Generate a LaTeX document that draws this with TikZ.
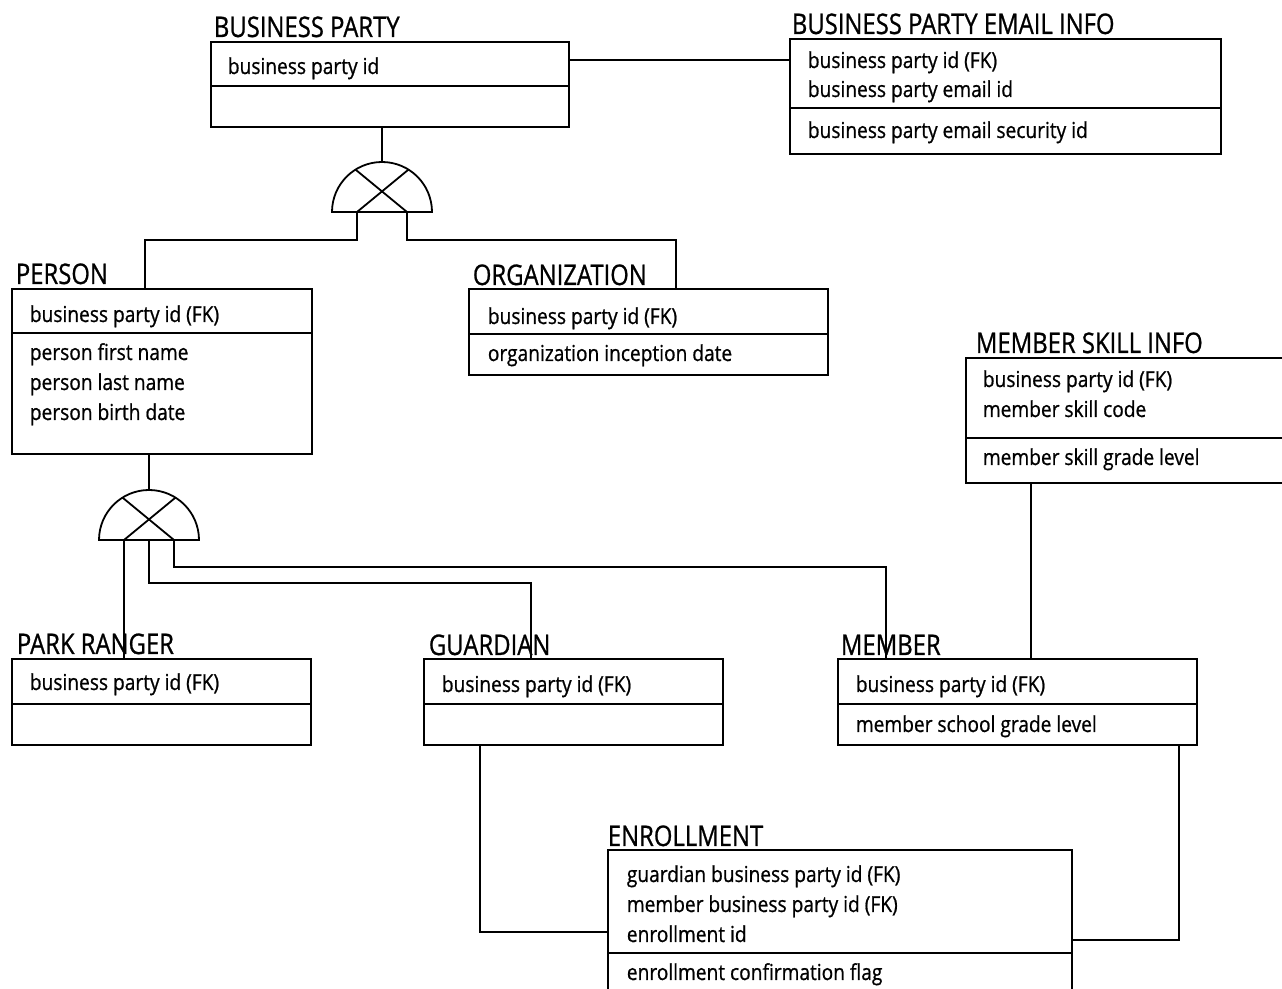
\documentclass[tikz,border=0pt]{standalone}
\usepackage{fontspec}
\setmainfont{Open Sans}[FakeStretch=0.87, FakeBold=0.8]
\newfontfamily\titlefont{Open Sans}[FakeStretch=0.84, FakeBold=0.8]
\begin{document}
\begin{tikzpicture}[x=0.5pt,y=-0.5pt,
  line width=0.9pt,
  ent/.style={draw, rectangle, anchor=north west, inner sep=0pt, outer sep=0pt},
  etitle/.style={anchor=base west, inner sep=0pt, font=\titlefont\fontsize{14.2}{16}\selectfont},
  attr/.style={anchor=base west, inner sep=0pt, font=\fontsize{11}{13}\selectfont},
]
\useasboundingbox (0,0) rectangle (1282,989);
\clip (0,0) rectangle (1282,989);

% ---------- entity boxes ----------
\node[ent, minimum width=179pt,   minimum height=42.5pt] (bp)     at (211,42)  {};
\node[ent, minimum width=215.5pt, minimum height=57.5pt] (em)     at (790,39)  {};
\node[ent, minimum width=150pt,   minimum height=82.5pt] (person) at (12,289)  {};
\node[ent, minimum width=179.5pt, minimum height=43pt]   (org)    at (469,289) {};
\node[ent, minimum width=170pt,   minimum height=62.5pt] (skill)  at (966,358) {};
\node[ent, minimum width=149.5pt, minimum height=43pt]   (park)   at (12,659)  {};
\node[ent, minimum width=149.5pt, minimum height=43pt]   (guard)  at (424,659) {};
\node[ent, minimum width=179.5pt, minimum height=43pt]   (member) at (838,659) {};
\node[ent, minimum width=232pt,   minimum height=80pt]   (enroll) at (608,850) {};

% key / non-key dividers
\draw (bp.west |- 0,86)      -- (bp.east |- 0,86);
\draw (em.west |- 0,108)     -- (em.east |- 0,108);
\draw (person.west |- 0,333) -- (person.east |- 0,333);
\draw (org.west |- 0,334)    -- (org.east |- 0,334);
\draw (skill.west |- 0,438)  -- (skill.east |- 0,438);
\draw (park.west |- 0,704)   -- (park.east |- 0,704);
\draw (guard.west |- 0,704)  -- (guard.east |- 0,704);
\draw (member.west |- 0,704) -- (member.east |- 0,704);
\draw (enroll.west |- 0,953) -- (enroll.east |- 0,953);

% ---------- titles ----------
\node[etitle] (bpT)     at (213,37)  {BUSINESS PARTY};
\node[etitle] (emT)     at (791,34)  {BUSINESS PARTY EMAIL INFO};
\node[etitle] (personT) at (15,284)  {PERSON};
\node[etitle] (orgT)    at (472,285) {ORGANIZATION};
\node[etitle] (skillT)  at (975,353) {MEMBER SKILL INFO};
\node[etitle] (parkT)   at (16,654)  {PARK RANGER};
\node[etitle] (guardT)  at (428,655) {GUARDIAN};
\node[etitle] (memberT) at (840,655) {MEMBER};
\node[etitle] (enrollT) at (607,846) {ENROLLMENT};

% ---------- attributes ----------
\node[attr] (bpA1) at (227,74) {business party id};

\node[attr] (emA1) at (807,68)  {business party id (FK)};
\node[attr] (emA2) at (807,97)  {business party email id};
\node[attr] (emA3) at (807,138) {business party email security id};

\node[attr] (personA1) at (29,322) {business party id (FK)};
\node[attr] (personA2) at (29,360) {person first name};
\node[attr] (personA3) at (29,390) {person last name};
\node[attr] (personA4) at (29,420) {person birth date};

\node[attr] (orgA1) at (487,324) {business party id (FK)};
\node[attr] (orgA2) at (487,361) {organization inception date};

\node[attr] (skillA1) at (982,387) {business party id (FK)};
\node[attr] (skillA2) at (982,417) {member skill code};
\node[attr] (skillA3) at (982,465) {member skill grade level};

\node[attr] (parkA1)   at (29,690)  {business party id (FK)};
\node[attr] (guardA1)  at (441,692) {business party id (FK)};
\node[attr] (memberA1) at (855,692) {business party id (FK)};
\node[attr] (memberA2) at (855,732) {member school grade level};

\node[attr] (enrollA1) at (626,882) {guardian business party id (FK)};
\node[attr] (enrollA2) at (626,912) {member business party id (FK)};
\node[attr] (enrollA3) at (626,942) {enrollment id};
\node[attr] (enrollA4) at (626,980) {enrollment confirmation flag};

% ---------- category (subtype) symbols ----------
\coordinate (g1) at (382,212);
\draw (g1) ++(-25pt,0) arc[start angle=180, end angle=0, radius=25pt] -- cycle;
\draw ([xshift=-12.5pt]g1) -- ([shift={(58:25pt)}]g1);
\draw ([xshift=12.5pt]g1)  -- ([shift={(122:25pt)}]g1);

\coordinate (g2) at (149,540);
\draw (g2) ++(-25pt,0) arc[start angle=180, end angle=0, radius=25pt] -- cycle;
\draw ([xshift=-12.5pt]g2) -- ([shift={(58:25pt)}]g2);
\draw ([xshift=12.5pt]g2)  -- ([shift={(122:25pt)}]g2);

% ---------- relationships ----------
\draw (bp.east |- 0,60) -- (em.west |- 0,60);

\draw (g1 |- bp.south) -- ([yshift=25pt]g1);
\draw ([xshift=-12.5pt]g1) |- (145,240) -- (person.north -| 145,0);
\draw ([xshift=12.5pt]g1)  |- (676,240) -- (org.north -| 676,0);

\draw (g2 |- person.south) -- ([yshift=25pt]g2);
\draw ([xshift=-12.5pt]g2) -- (park.north -| 124,0);
\draw (g2) |- (531,583) -- (guard.north -| 531,0);
\draw ([xshift=12.5pt]g2) |- (886,567) -- (member.north -| 886,0);

\draw (skill.south -| 1031,0) -- (member.north -| 1031,0);
\draw (guard.south -| 480,0) |- (enroll.west |- 0,932);
\draw (member.south -| 1179,0) |- (enroll.east |- 0,940);
\end{tikzpicture}
\end{document}
